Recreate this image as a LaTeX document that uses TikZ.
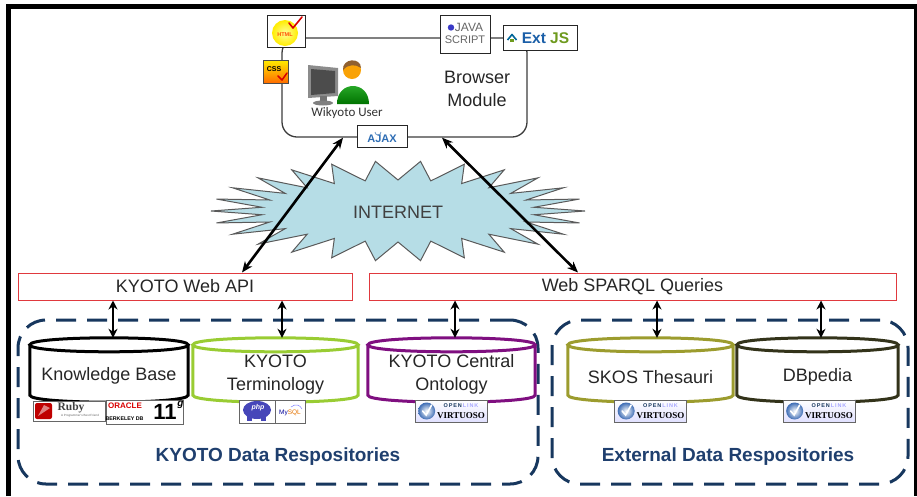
\documentclass[tikz,border=0pt]{standalone}
\usepackage{fontspec}
\setmainfont{Liberation Sans}
\newfontfamily\userfont{Carlito}
\newfontfamily\logoserif{Liberation Serif}
\usetikzlibrary{arrows.meta,calc,shadings}

\definecolor{framenavy}{HTML}{17375E}
\definecolor{labelnavy}{HTML}{1F3F6E}
\definecolor{apired}{HTML}{E0393E}
\definecolor{inetfill}{HTML}{B6DDE6}
\definecolor{inetline}{HTML}{5A5A5A}
\definecolor{modgray}{HTML}{3C3C3C}
\definecolor{termgreen}{HTML}{99CC33}
\definecolor{ontopurple}{HTML}{7F0F80}
\definecolor{skosolive}{HTML}{9C9C2E}
\definecolor{dbpolive}{HTML}{33331A}
\definecolor{bodytext}{HTML}{262626}
\definecolor{extblue}{HTML}{1B5FA8}
\definecolor{extgreen}{HTML}{6E9A1E}
\definecolor{ajaxblue}{HTML}{2E6DB4}
\definecolor{virtblue}{HTML}{3E6DB5}

% database drum drawn around a named slot node
\newcommand\dbdrum[2]{%
  \draw[#2, line width=3pt, fill=white]
    let \p1=(#1.north west), \p2=(#1.south east) in
    (\x1,\y1-7pt) -- (\x1,\y2+7pt)
      .. controls (\x1,\y2-2.33pt) and (\x2,\y2-2.33pt) .. (\x2,\y2+7pt)
      -- (\x2,\y1-7pt)
    (\x1,\y1-7pt)
      .. controls (\x1,\y1+2.33pt) and (\x2,\y1+2.33pt) .. (\x2,\y1-7pt)
      .. controls (\x2,\y1-16.33pt) and (\x1,\y1-16.33pt) .. (\x1,\y1-7pt) -- cycle;
}

% OpenLink Virtuoso badge
\newcommand\virtbadge[2]{%
  \node[logobox, minimum width=72, minimum height=22,
        top color=white, bottom color=blue!12] (#1) at #2 {};
  \shade[inner color=white, outer color=virtblue] ($(#1.west)+(12,0)$) circle[radius=8.5];
  \draw[white, line width=1.6pt, line cap=round]
    ($(#1.west)+(8,0)$) -- ($(#1.west)+(11.5,4)$) -- ($(#1.west)+(17,-6)$);
  \node[font=\bfseries\fontsize{5.5}{6}\selectfont] at ($(#1.center)+(10,-5)$)
    {\textcolor{framenavy}{O\,P\,E\,N}\,\textcolor{blue!35}{L\,I\,N\,K}};
  \node[font=\logoserif\bfseries\fontsize{9}{10}\selectfont] at ($(#1.center)+(10,4.5)$) {VIRTUOSO};
}

\begin{document}
\begin{tikzpicture}[x=1pt, y=-1pt,
  every node/.style={inner sep=0pt},
  apibox/.style={draw=apired, line width=1pt, minimum height=27,
    font=\fontsize{18}{21}\selectfont, text=bodytext},
  repobox/.style={draw=framenavy, line width=3pt, dash pattern=on 20pt off 11pt,
    rounded corners=28pt, minimum height=164},
  cylslot/.style={minimum height=64},
  cyltext/.style={font=\fontsize{18}{23}\selectfont, text=bodytext, align=center},
  repolabel/.style={font=\bfseries\fontsize{19}{22}\selectfont, text=labelnavy},
  dbl/.style={{Stealth[length=9pt,width=9pt]}-{Stealth[length=9pt,width=9pt]}, line width=2.8pt},
  webarrow/.style={{Stealth[length=11pt,width=9pt]}-{Stealth[length=11pt,width=9pt]}, line width=2.6pt},
  logobox/.style={draw=black!60, fill=white, line width=0.7pt},
  iconbox/.style={draw=black!85, fill=white, line width=1pt},
]
\useasboundingbox (0,0) rectangle (917,496);

% outer frame (open at the bottom)
\draw[line width=5pt, line join=miter] (8.5,496) -- (8.5,6.5) -- (916,6.5) -- (916,496);

% repository groups
\node[repobox, minimum width=520] (kyotorepo) at (278,402) {};
\node[repobox, minimum width=356] (extrepo) at (730,402) {};
\node[repolabel] (kyotolbl) at (278,457) {KYOTO Data Respositories};
\node[repolabel] (extlbl) at (728,457) {External Data Respositories};

% databases
\node[cylslot, minimum width=158] (kb) at (109,370) {};
\node[cylslot, minimum width=165] (term) at (275.5,370) {};
\node[cylslot, minimum width=167] (onto) at (451.5,370) {};
\node[cylslot, minimum width=165] (skos) at (650.5,370) {};
\node[cylslot, minimum width=161] (dbp) at (817.5,370) {};
\dbdrum{kb}{black}
\dbdrum{term}{termgreen}
\dbdrum{onto}{ontopurple}
\dbdrum{skos}{skosolive}
\dbdrum{dbp}{dbpolive}
\node[cyltext] (kbtxt) at (109,376) {Knowledge Base};
\node[cyltext] (termtxt) at (275.5,374.5) {KYOTO\\Terminology};
\node[cyltext] (ontotxt) at (451.5,374.5) {KYOTO Central\\Ontology};
\node[cyltext] (skostxt) at (650.5,377) {SKOS Thesauri};
\node[cyltext] (dbptxt) at (817.5,377) {DBpedia};

% technology badges under the databases
\node[logobox, minimum width=72, minimum height=20] (ruby) at (69,411) {};
\fill[red!75!black, rounded corners=2pt] (35,403) rectangle (52,419);
\fill[white, opacity=0.5] (38,416) -- (44,405) -- (50,408) -- cycle;
\node[font=\logoserif\bfseries\fontsize{11.5}{12}\selectfont, text=black!75] (rubytxt) at (71,408) {Ruby};
\node[font=\fontsize{3}{3}\selectfont, text=black!60] (rubysub) at (80,416) {A Programmer's Best Friend};

\node[logobox, minimum width=77, minimum height=24] (oracle) at (144.5,412) {};
\node[font=\bfseries\fontsize{8}{8}\selectfont, text=red!85!black] (oratxt) at (125,405.5) {ORACLE};
\node[font=\bfseries\fontsize{5.3}{6}\selectfont] (bdbtxt) at (124.5,419) {BERKELEY DB};
\node[font=\bfseries\fontsize{22}{22}\selectfont] (eleven) at (165,412) {11};
\node[font=\bfseries\itshape\fontsize{10}{10}\selectfont] (gtxt) at (180.5,405) {g};

\node[logobox, minimum width=36, minimum height=23] (php) at (257,411.5) {};
\fill[blue!45!gray] (257,410) ellipse[x radius=14, y radius=9];
\fill[blue!45!gray] (247,413) rectangle (252,421);
\fill[blue!45!gray] (261,413) rectangle (266,421);
\node[font=\bfseries\itshape\fontsize{7}{7}\selectfont, text=white] (phptxt) at (258,408) {php};
\node[logobox, minimum width=30, minimum height=23] (mysql) at (290,411.5) {};
\node[font=\fontsize{6.5}{7}\selectfont] (mysqltxt) at (290,413) {\textcolor{blue!60!black}{My}\textcolor{orange!90!black}{SQL}};
\draw[blue!50, line width=0.5pt] (291,407) .. controls (296,403) and (300,405) .. (302,409);

\virtbadge{virtonto}{(451,411)}
\virtbadge{virtskos}{(650.5,411)}
\virtbadge{virtdbp}{(819,411)}

% access layer
\node[apibox, minimum width=334] (kapi) at (185,286.5) {KYOTO Web API};
\node[apibox, minimum width=527] (sapi) at (632.5,286.5) {Web SPARQL Queries};

\draw[dbl] ($(kb.north |- kapi.south)+(4,0)$) -- ($(kb.north)+(4,0)$);
\draw[dbl] ($(term.north |- kapi.south)+(6.5,0)$) -- ($(term.north)+(6.5,0)$);
\draw[dbl] ($(onto.north |- sapi.south)+(3.5,0)$) -- ($(onto.north)+(3.5,0)$);
\draw[dbl] ($(skos.north |- sapi.south)+(6.5,0)$) -- ($(skos.north)+(6.5,0)$);
\draw[dbl] ($(dbp.north |- sapi.south)+(3.5,0)$) -- ($(dbp.north)+(3.5,0)$);

% internet cloud: alternating inner/outer points on two ellipses
\draw[draw=inetline, fill=inetfill, line width=1pt, line join=miter]
  (585,211)
  \foreach \i in {1,...,51} {
    -- ({398 + cos(\i*6.923)*(137 + 50*mod(\i+1,2))},
        {211 + sin(\i*6.923)*(31 + 19*mod(\i+1,2))})
  } -- cycle;
\node[font=\fontsize{18}{21}\selectfont, text=black!75] (inet) at (398,212) {INTERNET};

% browser module
\node[draw=modgray, line width=1.3pt, rounded corners=15pt,
      minimum width=245, minimum height=99] (browser) at (404.5,87.5) {};
\node[font=\fontsize{18}{23}\selectfont, text=bodytext, align=center] (bmtxt) at (477,88.5) {Browser\\Module};

% web user
\fill[black!45] (308,65) -- (338,68) -- (338,96) -- (308,98) -- cycle;
\fill[black!70] (311,69) -- (335,71) -- (335,93) -- (311,95) -- cycle;
\fill[black!55] (320,96) rectangle (327,102);
\fill[black!50] (323,103) ellipse[x radius=10, y radius=2.5];
\shade[top color=green!65!black!80, bottom color=green!45!black] (337,104) .. controls (337,80) and (369,80) .. (369,104) -- cycle;
\fill[orange!70!yellow!90!brown] (352,70) circle[radius=9];
\fill[brown!75!black] (343,70) .. controls (342,58) and (361,57) .. (361,68) .. controls (356,64) and (348,64) .. (343,70) -- cycle;
\node[font=\userfont\fontsize{13}{14}\selectfont, text=black!80] (usertxt) at (347,113) {Wikyoto User};

% client technologies
\node[iconbox, minimum width=38, minimum height=32] (html) at (286,31) {};
\shade[inner color=yellow!40, outer color=yellow!85!orange] (285,33) circle[radius=13];
\node[font=\bfseries\fontsize{5.5}{5}\selectfont, text=orange!60!red] (htmltxt) at (285,35) {HTML};
\draw[red!85!black, line width=1.6pt, line cap=round, line join=round] (289,23) -- (293,28) -- (302,17);

\node[draw=black!70, minimum width=25, minimum height=23, top color=yellow!85!orange,
      bottom color=orange!85!red] (css) at (275.5,71.5) {};
\node[font=\bfseries\fontsize{7}{7}\selectfont] (csstxt) at (274,69) {CSS};
\draw[red!85!black, line width=1.5pt, line cap=round, line join=round] (278,76) -- (282,80) -- (287,73);

\node[iconbox, minimum width=50, minimum height=38] (js) at (465,34) {};
\fill[blue!55!gray] (451,27.5) circle[radius=3.2];
\node[font=\fontsize{12}{12}\selectfont, text=black!60] (javatxt) at (469,27) {JAVA};
\node[font=\fontsize{11}{11}\selectfont, text=black!60] (scripttxt) at (465,40) {SCRIPT};

\node[iconbox, minimum width=74, minimum height=25] (extjs) at (540,37.5) {};
\draw[teal!80!blue, line width=1.6pt, line join=round] (507.5,40) -- (512,34.5) -- (516.5,40);
\fill[extgreen] (510,39) rectangle (514,42);
\node[font=\bfseries\fontsize{15.5}{16}\selectfont] (exttxt) at (545.5,38)
  {\textcolor{extblue}{Ext}~\textcolor{extgreen}{JS}};

\node[iconbox, minimum width=50, minimum height=22] (ajax) at (382,136) {};
\node[font=\bfseries\fontsize{11}{11}\selectfont, text=ajaxblue] (ajaxtxt) at (382,139) {AJAX};
\draw[ajaxblue!70, line width=0.8pt] (375,132) arc[start angle=180, end angle=0, radius=3];

% browser <-> access layer
\draw[webarrow] ([xshift=-61.5pt]browser.south) -- ([xshift=57pt]kapi.north);
\draw[webarrow] ([xshift=37.5pt]browser.south) -- ([xshift=-54.5pt]sapi.north);

\end{tikzpicture}
\end{document}
